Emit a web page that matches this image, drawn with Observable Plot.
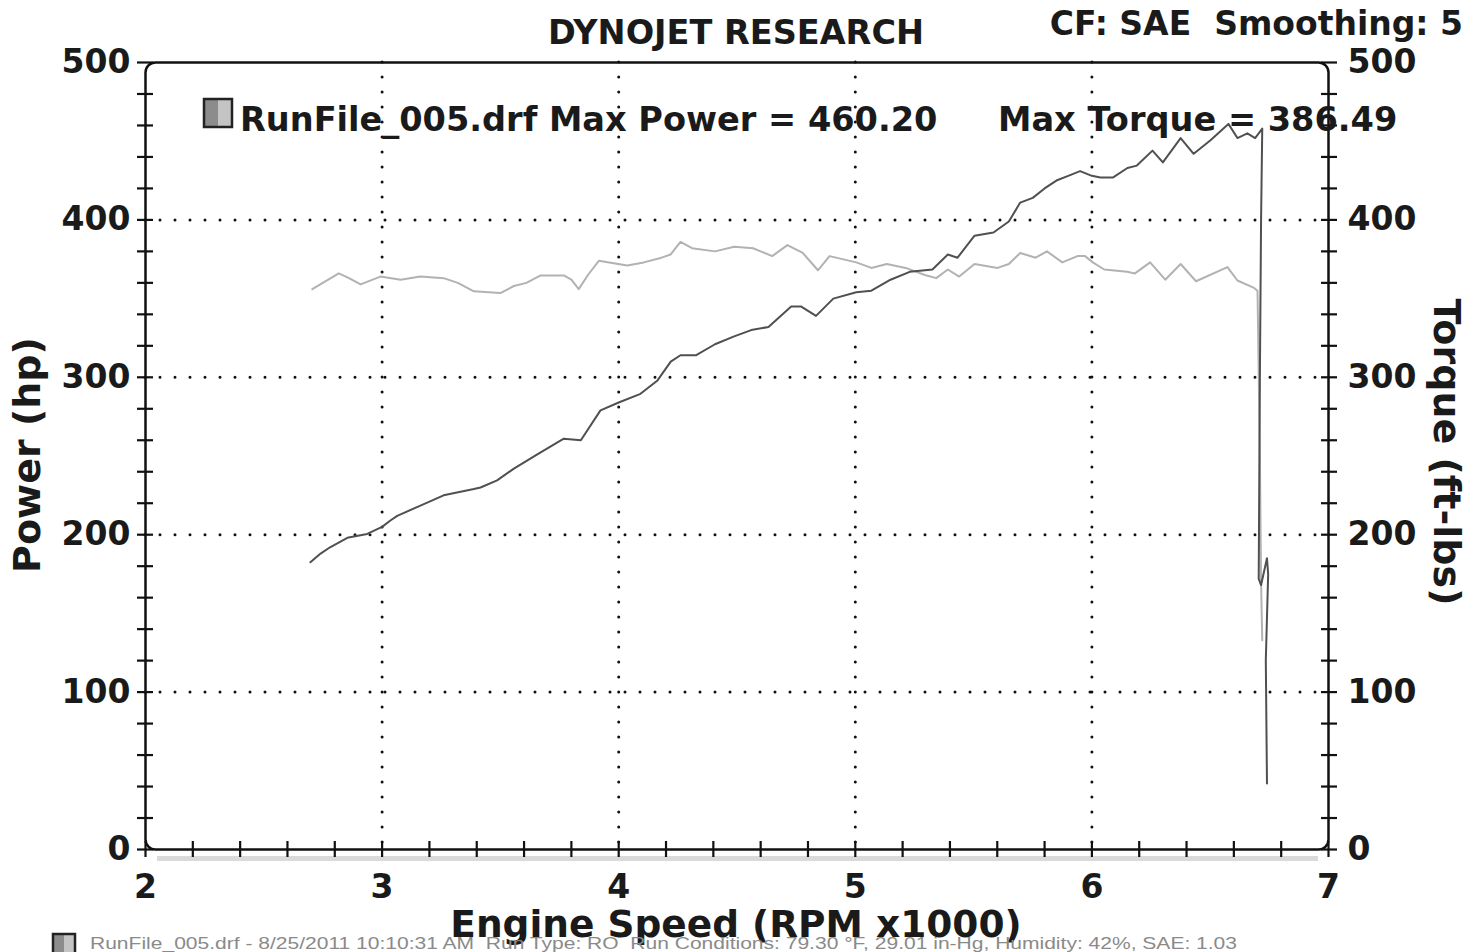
<!DOCTYPE html>
<html><head><meta charset="utf-8">
<script src="https://cdn.jsdelivr.net/npm/d3@7"></script>
<script src="https://cdn.jsdelivr.net/npm/@observablehq/plot@0.6"></script>
<style>body{margin:0;background:#fff} svg{display:block}</style>
</head><body><div id="chart"></div>
<script>
// ---- data read from the dyno sheet ----
const powerRpm = [2.697,2.74,2.78,2.853,2.937,3.0,3.035,3.064,3.162,3.26,3.388,3.416,3.486,3.557,3.656,3.768,3.84,3.923,4.0,4.092,4.164,4.22,4.261,4.326,4.407,4.488,4.56,4.633,4.729,4.77,4.834,4.907,5.004,5.068,5.149,5.23,5.326,5.391,5.432,5.504,5.584,5.649,5.697,5.75,5.80,5.85,5.90,5.95,6.0,6.036,6.09,6.15,6.19,6.256,6.30,6.375,6.43,6.50,6.577,6.615,6.657,6.69,6.72,6.715,6.71,6.705,6.715,6.74,6.745,6.735,6.74];
const powerHp = [182.5,188,192,198,200.5,205,209,212,218.5,225,229,230,234.5,242,251,261,260,279,284,289.5,298,310,314,314,321,326,330,332,345,345,339,350,354,355,362,367,368.5,378,376,390,392,399,411,414,420,425,428,431,428,427,427,433,434.5,444,436.5,452,442,450.5,461,452,455,452,458,400,300,172,168,185,175,120,42];
const torqueRpm = [2.705,2.76,2.817,2.86,2.909,2.993,3.078,3.162,3.26,3.32,3.388,3.45,3.50,3.557,3.61,3.67,3.768,3.80,3.831,3.87,3.916,3.96,4.036,4.106,4.181,4.219,4.261,4.31,4.407,4.488,4.568,4.649,4.713,4.778,4.842,4.891,5.004,5.068,5.133,5.213,5.294,5.342,5.391,5.439,5.504,5.601,5.649,5.697,5.762,5.81,5.875,5.939,5.971,6.004,6.052,6.149,6.182,6.246,6.31,6.375,6.44,6.573,6.615,6.683,6.70,6.71,6.715,6.72];
const torqueLbft = [356,361,366,363,359,364,362,364,363,360,354.6,354,353.5,358,360,364.7,364.7,362,356,365,374,373,371,373,376,378,386,382,380,383,382,377,384,379,368,377,373,369.5,372,369.5,365,363,368.5,364,372,369.5,372,379,376,380,373,377,377,373,368.5,367,366,373,362,372,361,370,361.5,357,355,250,170,133];

const xTicks = [2,3,4,5,6,7];
const yTicks = [0,100,200,300,400,500];
const xGrid = [3,4,5,6];
const yGrid = [100,200,300,400];
const xMinor = d3.range(2, 7.001, 0.2);
const yMinor = d3.range(0, 501, 20);

const titleText = "DYNOJET RESEARCH";
const cfText = "CF: SAE  Smoothing: 5";
const legendRun = "RunFile_005.drf Max Power = 460.20";
const legendTorque = "Max Torque = 386.49";
const yLabelLeft = "Power (hp)";
const yLabelRight = "Torque (ft-lbs)";
const xLabel = "Engine Speed (RPM x1000)";
const caption = "RunFile_005.drf - 8/25/2011 10:10:31 AM  Run Type: RO  Run Conditions: 79.30 °F, 29.01 in-Hg, Humidity: 42%, SAE: 1.03";

const powerData = powerRpm.map((r, i) => ({rpm: r, v: powerHp[i]}));
const torqueData = torqueRpm.map((r, i) => ({rpm: r, v: torqueLbft[i]}));

const dotted = {stroke: "#111", strokeOpacity: 1, strokeWidth: 3, strokeDasharray: "0,15", strokeLinecap: "round"};
const font = "DejaVu Sans, Verdana, sans-serif";

const chart = Plot.plot({
  width: 1481, height: 952,
  marginLeft: 145, marginRight: 153, marginTop: 62, marginBottom: 103,
  x: {domain: [2, 7]},
  y: {domain: [0, 500]},
  style: {fontFamily: font, fontWeight: "bold", fontSize: "33px", color: "#1a1a1a", background: "#fff"},
  marks: [
    Plot.ruleY([0], {dy: 9, stroke: "#dadada", strokeWidth: 5, insetLeft: 12, insetRight: 10}),
    Plot.gridX(xGrid, dotted),
    Plot.gridY(yGrid, dotted),
    Plot.line(torqueData, {x: "rpm", y: "v", stroke: "#b2b2b2", strokeWidth: 2}),
    Plot.line(powerData, {x: "rpm", y: "v", stroke: "#505050", strokeWidth: 2}),
    Plot.frame({stroke: "#111", strokeWidth: 2.5, rx: 10}),
    Plot.axisY(yMinor, {anchor: "left", tickSize: 16, dx: 8, fill: "none", label: null, strokeWidth: 2.2, stroke: "#111"}),
    Plot.axisY(yMinor, {anchor: "right", tickSize: 16, dx: -8, fill: "none", label: null, strokeWidth: 2.2, stroke: "#111"}),
    Plot.axisX(xMinor, {anchor: "bottom", tickSize: 16, dy: -8, fill: "none", label: null, strokeWidth: 2.2, stroke: "#111"}),
    Plot.axisY(yTicks, {anchor: "left", tickSize: 0, tickPadding: 15, label: null, fontSize: 33, fontWeight: "bold", tickFormat: d => String(d)}),
    Plot.axisY(yTicks, {anchor: "right", tickSize: 0, tickPadding: 19, label: null, fontSize: 33, fontWeight: "bold", tickFormat: d => String(d)}),
    Plot.axisX(xTicks, {anchor: "bottom", tickSize: 0, tickPadding: 25, label: null, fontSize: 33, fontWeight: "bold", tickFormat: d => String(d)})
  ]
});
document.getElementById("chart").appendChild(chart);

const svg = d3.select(chart);
const g = svg.append("g").attr("font-family", font).attr("font-weight", "bold").attr("fill", "#1a1a1a");
g.append("text").attr("x", 736).attr("y", 44).attr("text-anchor", "middle").attr("font-size", 33.5).text(titleText);
g.append("text").attr("x", 1463).attr("y", 35).attr("text-anchor", "end").attr("font-size", 33).text(cfText);
g.append("text").attr("x", 240).attr("y", 131).attr("text-anchor", "start").attr("font-size", 33.6).text(legendRun);
g.append("text").attr("x", 998).attr("y", 131).attr("text-anchor", "start").attr("font-size", 33.6).text(legendTorque);
g.append("text").attr("transform", "translate(40,455) rotate(-90)").attr("text-anchor", "middle").attr("font-size", 38).text(yLabelLeft);
g.append("text").attr("transform", "translate(1434,452) rotate(90)").attr("text-anchor", "middle").attr("font-size", 38).text(yLabelRight);

// caption (drawn under the x-axis title, as on the sheet)
svg.append("text").attr("x", 90).attr("y", 949).attr("text-anchor", "start")
  .attr("font-family", "Liberation Sans Narrow, Liberation Sans, Arial, sans-serif")
  .attr("font-weight", "normal").attr("font-size", 17).attr("fill", "#8a8a8a")
  .attr("textLength", 1147).attr("lengthAdjust", "spacingAndGlyphs").text(caption);
g.append("text").attr("x", 736).attr("y", 937).attr("text-anchor", "middle").attr("font-size", 37.5).text(xLabel);

// legend / caption swatches
function swatch(x, y, s) {
  const sw = svg.append("g");
  sw.append("rect").attr("x", x).attr("y", y).attr("width", s / 2).attr("height", s).attr("fill", "#8c8c8c");
  sw.append("rect").attr("x", x + s / 2).attr("y", y).attr("width", s / 2).attr("height", s).attr("fill", "#c4c4c4");
  sw.append("rect").attr("x", x).attr("y", y).attr("width", s).attr("height", s).attr("fill", "none").attr("stroke", "#222").attr("stroke-width", 2.5);
}
swatch(204, 99, 28);
swatch(53, 934, 22);
</script>
</body></html>
